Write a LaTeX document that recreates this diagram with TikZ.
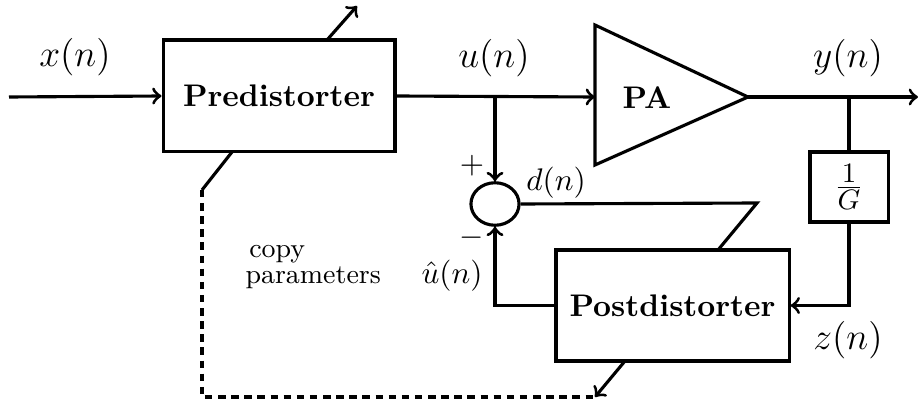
\documentclass[tikz,border=0pt]{standalone}
\usetikzlibrary{shapes.geometric}
\begin{document}
\begin{tikzpicture}[x=0.32pt,y=-0.32pt,line width=1pt,
  blk/.style={draw,rectangle,inner sep=0pt,font=\bfseries\fontsize{10}{12}\selectfont},
  sig/.style={inner sep=1pt,font=\fontsize{11.5}{13}\selectfont},
  sigs/.style={inner sep=1pt,font=\fontsize{9.6}{11}\selectfont},
  arr/.style={->},
  cp/.style={dash pattern=on 2.4pt off 1.8pt}]
\useasboundingbox (0,0) rectangle (918,403);

% blocks
\node[blk,minimum width=74.2pt,minimum height=35.8pt] (pre) at (279,96) {Predistorter};
\node[blk,minimum width=74.6pt,minimum height=35.5pt] (post) at (672.5,305.5) {Postdistorter};
\node[draw,rectangle,inner sep=0pt,minimum width=25pt,minimum height=22.4pt,
      font=\fontsize{12.5}{14}\selectfont] (g) at (849,187) {$\frac{1}{G}$};
\node[draw,ellipse,inner sep=0pt,minimum width=15.4pt,minimum height=13.6pt] (sum) at (495,204) {};

% power amplifier
\coordinate (pain) at (595,97);
\coordinate (paout) at (748,97);
\draw (595,25) -- (paout) -- (595,165) -- cycle;
\node[font=\bfseries\fontsize{10}{12}\selectfont] (pa) at (647,98) {PA};

% helper points
\coordinate (in) at (9,97);
\coordinate (out) at (918,97);
\coordinate (ubr) at (495,97);
\coordinate (ybr) at (849,97);
\coordinate (dcorner) at (757,203);
\coordinate (dend) at (718,250);
\coordinate (adjA) at (327,40);
\coordinate (adjB) at (357,6);
\coordinate (cpA) at (232,152);
\coordinate (cpB) at (202,190);
\coordinate (cpC) at (202,397);
\coordinate (cpD) at (595,397);
\coordinate (cpE) at (625,361);

% signal path
\draw[arr] (in) -- (pre.west);
\draw[arr] (pre.east) -- (pain);
\draw[arr] (paout) -- (out);
\draw[arr] (ubr) -- (sum.north);
\draw (ybr) -- (g.north);
\draw[arr] (g.south) |- (post.east);
\draw[arr] (post.west) -| (sum.south);
\draw (sum.east) -- (dcorner) -- (dend);

% parameter adaptation
\draw[arr] (adjA) -- (adjB);
\draw (cpA) -- (cpB);
\draw[cp] (cpB) -- (cpC) -- (cpD);
\draw[arr] (cpE) -- (cpD);

% labels
\node[sig] (lx) at (75,57) {$x(n)$};
\node[sig] (lu) at (494,58) {$u(n)$};
\node[sig] (ly) at (848,58) {$y(n)$};
\node[sig] (lz) at (848,340) {$z(n)$};
\node[sigs] (ld) at (556,183) {$d(n)$};
\node[sigs] (luh) at (452,276) {$\hat{u}(n)$};
\node[sigs] (lp) at (472,166) {$+$};
\node[sigs] (lm) at (472,238) {$-$};
\node[font=\fontsize{8.7}{8.2}\selectfont,align=left,anchor=west,inner sep=0pt] (lcp) at (244,267) {\hspace{1.2pt}copy\\parameters};
\end{tikzpicture}
\end{document}
